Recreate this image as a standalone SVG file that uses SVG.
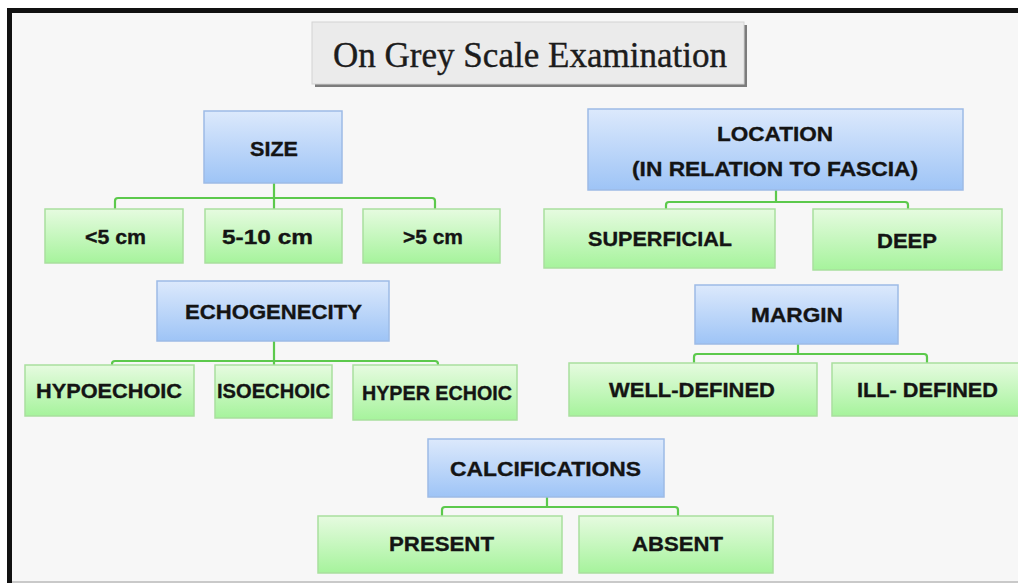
<svg xmlns="http://www.w3.org/2000/svg" width="1018" height="583" viewBox="0 0 1018 583">
  <defs>
    <linearGradient id="blueFill" x1="0" y1="0" x2="0" y2="1">
      <stop offset="0" stop-color="#dce9fc"/>
      <stop offset="1" stop-color="#9ec4f6"/>
    </linearGradient>
    <linearGradient id="greenFill" x1="0" y1="0" x2="0" y2="1">
      <stop offset="0" stop-color="#e6fbe0"/>
      <stop offset="1" stop-color="#a6f39c"/>
    </linearGradient>
  </defs>
  <style>
    .head { fill: url(#blueFill); stroke: #9dbbe6; stroke-width: 1.5; }
    .leaf { fill: url(#greenFill); stroke: #a9df9e; stroke-width: 1.5; }
    .lbl { font-family: "Liberation Sans", Arial, sans-serif; font-weight: bold; font-size: 21px; fill: #141414; stroke: #141414; stroke-width: 0.35; text-anchor: middle; }
    .link { fill: none; stroke: #5cc94c; stroke-width: 2.2; stroke-linejoin: round; }
    .title { font-family: "Liberation Serif", "Times New Roman", serif; font-size: 35px; fill: #1c1c1c; stroke: #1c1c1c; stroke-width: 0.4; text-anchor: middle; }
  </style>

  <!-- page and frame -->
  <rect x="0" y="0" width="1018" height="583" fill="#ffffff"/>
  <rect x="12" y="13" width="1006" height="569" fill="#f7f7f7"/>
  <rect x="7" y="8" width="1011" height="5" fill="#111111"/>
  <rect x="7" y="8" width="5" height="575" fill="#111111"/>
  <rect x="12" y="581" width="1006" height="2" fill="#c9c9c9"/>

  <!-- title plate -->
  <g id="title">
    <rect x="315" y="25" width="432" height="62" fill="#7c7c7c"/>
    <rect x="312" y="22" width="432" height="62" fill="#ebebeb" stroke="#d4d4d4" stroke-width="1"/>
    <text class="title" x="530" y="67" textLength="394" lengthAdjust="spacingAndGlyphs">On Grey Scale Examination</text>
  </g>

  <!-- connectors -->
  <g id="connectors">
    <path class="link" d="M274 183 V209 M115 209 V201 Q115 198 118 198 H432 Q435 198 435 201 V209"/>
    <path class="link" d="M274 341 V365 M112 365 V364 Q112 361 115 361 H435 Q438 361 438 364 V365"/>
    <path class="link" d="M776 190 V202 M666 209 V205 Q666 202 669 202 H905 Q908 202 908 205 V209"/>
    <path class="link" d="M798 344 V354 M694 363 V357 Q694 354 697 354 H924 Q927 354 927 357 V363"/>
    <path class="link" d="M547 497 V507 M442 516 V510 Q442 507 445 507 H675 Q678 507 678 510 V516"/>
  </g>

  <!-- SIZE branch -->
  <g id="size">
    <rect class="head" x="204" y="111" width="138" height="72"/>
    <text class="lbl" x="274" y="156" textLength="48" lengthAdjust="spacingAndGlyphs">SIZE</text>
  </g>
  <g id="size-lt5">
    <rect class="leaf" x="45" y="209" width="138" height="54"/>
    <text class="lbl" x="115.5" y="244" textLength="61" lengthAdjust="spacingAndGlyphs">&lt;5 cm</text>
  </g>
  <g id="size-5to10">
    <rect class="leaf" x="205" y="209" width="137" height="54"/>
    <text class="lbl" x="267.5" y="244" textLength="91" lengthAdjust="spacingAndGlyphs">5-10 cm</text>
  </g>
  <g id="size-gt5">
    <rect class="leaf" x="363" y="209" width="137" height="54"/>
    <text class="lbl" x="433" y="244" textLength="60" lengthAdjust="spacingAndGlyphs">&gt;5 cm</text>
  </g>

  <!-- LOCATION branch -->
  <g id="location">
    <rect class="head" x="588" y="109" width="375" height="81"/>
    <text class="lbl" x="775" y="141" textLength="116" lengthAdjust="spacingAndGlyphs">LOCATION</text>
    <text class="lbl" x="775" y="176" textLength="286" lengthAdjust="spacingAndGlyphs">(IN RELATION  TO FASCIA)</text>
  </g>
  <g id="loc-superficial">
    <rect class="leaf" x="544" y="209" width="231" height="59"/>
    <text class="lbl" x="660" y="246" textLength="144" lengthAdjust="spacingAndGlyphs">SUPERFICIAL</text>
  </g>
  <g id="loc-deep">
    <rect class="leaf" x="813" y="209" width="189" height="61"/>
    <text class="lbl" x="907" y="248" textLength="60" lengthAdjust="spacingAndGlyphs">DEEP</text>
  </g>

  <!-- ECHOGENECITY branch -->
  <g id="echogenecity">
    <rect class="head" x="157" y="281" width="232" height="60"/>
    <text class="lbl" x="273.5" y="319" textLength="177" lengthAdjust="spacingAndGlyphs">ECHOGENECITY</text>
  </g>
  <g id="echo-hypo">
    <rect class="leaf" x="25" y="365" width="169" height="51"/>
    <text class="lbl" x="109" y="398" textLength="146" lengthAdjust="spacingAndGlyphs">HYPOECHOIC</text>
  </g>
  <g id="echo-iso">
    <rect class="leaf" x="215" y="365" width="117" height="53"/>
    <text class="lbl" x="273.5" y="398" textLength="113" lengthAdjust="spacingAndGlyphs">ISOECHOIC</text>
  </g>
  <g id="echo-hyper">
    <rect class="leaf" x="353" y="365" width="164" height="55"/>
    <text class="lbl" x="437" y="400" textLength="150" lengthAdjust="spacingAndGlyphs">HYPER ECHOIC</text>
  </g>

  <!-- MARGIN branch -->
  <g id="margin">
    <rect class="head" x="695" y="285" width="203" height="59"/>
    <text class="lbl" x="797" y="322" textLength="92" lengthAdjust="spacingAndGlyphs">MARGIN</text>
  </g>
  <g id="margin-well">
    <rect class="leaf" x="569" y="363" width="248" height="53"/>
    <text class="lbl" x="692" y="397" textLength="166" lengthAdjust="spacingAndGlyphs">WELL-DEFINED</text>
  </g>
  <g id="margin-ill">
    <rect class="leaf" x="832" y="363" width="190" height="53"/>
    <text class="lbl" x="927.5" y="397" textLength="141" lengthAdjust="spacingAndGlyphs">ILL- DEFINED</text>
  </g>

  <!-- CALCIFICATIONS branch -->
  <g id="calcifications">
    <rect class="head" x="428" y="439" width="236" height="58"/>
    <text class="lbl" x="545.5" y="476" textLength="191" lengthAdjust="spacingAndGlyphs">CALCIFICATIONS</text>
  </g>
  <g id="calc-present">
    <rect class="leaf" x="318" y="516" width="244" height="57"/>
    <text class="lbl" x="441.5" y="551" textLength="105" lengthAdjust="spacingAndGlyphs">PRESENT</text>
  </g>
  <g id="calc-absent">
    <rect class="leaf" x="579" y="516" width="194" height="57"/>
    <text class="lbl" x="677.5" y="551" textLength="91" lengthAdjust="spacingAndGlyphs">ABSENT</text>
  </g>
</svg>
